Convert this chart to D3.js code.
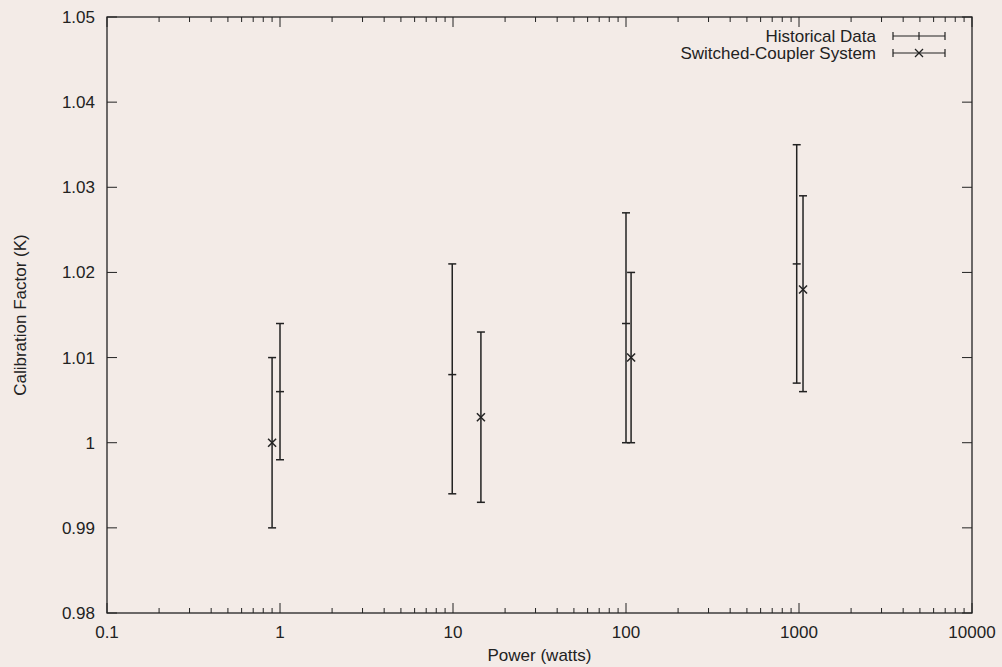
<!DOCTYPE html>
<html>
<head>
<meta charset="utf-8">
<script src="https://cdn.jsdelivr.net/npm/d3@7"></script>
<style>
  body { margin: 0; background: #f3ebe7; }
  svg { display: block; }
  text { font-family: "Liberation Sans", Arial, sans-serif; fill: #222; }
</style>
</head>
<body>
<div id="chart"></div>
<script>
// Historical Data (power, center, low, high)
var histPower = [1, 9.9, 100, 970];
var histValue = [1.006, 1.008, 1.014, 1.021];
var histLow   = [0.998, 0.994, 1.000, 1.007];
var histHigh  = [1.014, 1.021, 1.027, 1.035];

// Switched-Coupler System
var swPower = [0.9, 14.5, 107, 1055];
var swValue = [1.000, 1.003, 1.010, 1.018];
var swLow   = [0.990, 0.993, 1.000, 1.006];
var swHigh  = [1.010, 1.013, 1.020, 1.029];

var xTicks = [0.1, 1, 10, 100, 1000, 10000];
var yTicks = [0.98, 0.99, 1, 1.01, 1.02, 1.03, 1.04, 1.05];

var width = 1002, height = 667;
var margin = { left: 107, right: 30, top: 17, bottom: 54 };
var ink = "#222";

var svg = d3.select("#chart")
    .append("svg")
    .attr("width", width)
    .attr("height", height);

var x = d3.scaleLog()
    .domain([0.1, 10000])
    .range([margin.left, width - margin.right]);

var y = d3.scaleLinear()
    .domain([0.98, 1.05])
    .range([height - margin.bottom, margin.top]);

var x0 = x.range()[0], x1 = x.range()[1];
var y0 = y.range()[0], y1 = y.range()[1];

// minor ticks for log axis
var minorTicks = [];
xTicks.slice(0, -1).forEach(function (t) {
    for (var k = 2; k <= 9; k++) minorTicks.push(t * k);
});

var ticks = svg.append("g").attr("stroke", ink).attr("stroke-width", 1);

// x ticks bottom + top
xTicks.forEach(function (t) {
    ticks.append("line").attr("x1", x(t)).attr("x2", x(t)).attr("y1", y0).attr("y2", y0 - 10);
    ticks.append("line").attr("x1", x(t)).attr("x2", x(t)).attr("y1", y1).attr("y2", y1 + 10);
});
minorTicks.forEach(function (t) {
    ticks.append("line").attr("x1", x(t)).attr("x2", x(t)).attr("y1", y0).attr("y2", y0 - 5);
    ticks.append("line").attr("x1", x(t)).attr("x2", x(t)).attr("y1", y1).attr("y2", y1 + 5);
});
// y ticks left + right
yTicks.forEach(function (t) {
    ticks.append("line").attr("x1", x0).attr("x2", x0 + 10).attr("y1", y(t)).attr("y2", y(t));
    ticks.append("line").attr("x1", x1).attr("x2", x1 - 10).attr("y1", y(t)).attr("y2", y(t));
});

// frame
svg.append("rect")
    .attr("x", x0).attr("y", y1)
    .attr("width", x1 - x0).attr("height", y0 - y1)
    .attr("fill", "none").attr("stroke", ink).attr("stroke-width", 1.3);

// tick labels
svg.selectAll(".xlab")
    .data(xTicks)
    .enter()
    .append("text")
    .attr("class", "xlab")
    .attr("x", function (d) { return x(d); })
    .attr("y", y0 + 25)
    .attr("text-anchor", "middle")
    .style("font-size", "17px")
    .text(function (d) { return d3.format("~g")(d); });

svg.selectAll(".ylab")
    .data(yTicks)
    .enter()
    .append("text")
    .attr("class", "ylab")
    .attr("x", x0 - 12)
    .attr("y", function (d) { return y(d) + 6; })
    .attr("text-anchor", "end")
    .style("font-size", "17px")
    .text(function (d) { return d3.format("~g")(d); });

// axis titles
svg.append("text")
    .attr("x", (x0 + x1) / 2)
    .attr("y", y0 + 48)
    .attr("text-anchor", "middle")
    .style("font-size", "17px")
    .text("Power (watts)");

svg.append("text")
    .attr("transform", "translate(26," + (y0 + y1) / 2 + ") rotate(-90)")
    .attr("text-anchor", "middle")
    .style("font-size", "17px")
    .text("Calibration Factor (K)");

var cap = 4;

function drawBars(power, value, low, high, marker) {
    var g = svg.append("g").attr("stroke", ink).attr("stroke-width", 1.5).attr("fill", "none");
    power.forEach(function (p, i) {
        var px = x(p);
        g.append("line").attr("x1", px).attr("x2", px).attr("y1", y(low[i])).attr("y2", y(high[i]));
        g.append("line").attr("x1", px - cap).attr("x2", px + cap).attr("y1", y(low[i])).attr("y2", y(low[i]));
        g.append("line").attr("x1", px - cap).attr("x2", px + cap).attr("y1", y(high[i])).attr("y2", y(high[i]));
        marker(g, px, y(value[i]));
    });
}

function tickMark(g, cx, cy) {
    g.append("line").attr("x1", cx - cap).attr("x2", cx + cap).attr("y1", cy).attr("y2", cy);
}

function crossMark(g, cx, cy) {
    var s = 4;
    g.append("line").attr("x1", cx - s).attr("x2", cx + s).attr("y1", cy - s).attr("y2", cy + s);
    g.append("line").attr("x1", cx - s).attr("x2", cx + s).attr("y1", cy + s).attr("y2", cy - s);
}

drawBars(histPower, histValue, histLow, histHigh, tickMark);
drawBars(swPower, swValue, swLow, swHigh, crossMark);

// legend
var legendItems = [
    { name: "Historical Data", marker: "tick" },
    { name: "Switched-Coupler System", marker: "cross" }
];

var legend = svg.selectAll(".legend")
    .data(legendItems)
    .enter()
    .append("g")
    .attr("class", "legend")
    .attr("transform", function (d, i) { return "translate(0," + (36 + i * 17) + ")"; });

legend.append("text")
    .attr("x", 876)
    .attr("y", 6)
    .attr("text-anchor", "end")
    .style("font-size", "17px")
    .text(function (d) { return d.name; });

legend.each(function (d) {
    var g = d3.select(this).append("g").attr("stroke", ink).attr("stroke-width", 1.2);
    var a = 893, b = 945, m = (a + b) / 2;
    g.append("line").attr("x1", a).attr("x2", b).attr("y1", 0).attr("y2", 0);
    g.append("line").attr("x1", a).attr("x2", a).attr("y1", -4).attr("y2", 4);
    g.append("line").attr("x1", b).attr("x2", b).attr("y1", -4).attr("y2", 4);
    if (d.marker === "tick") {
        g.append("line").attr("x1", m).attr("x2", m).attr("y1", -4).attr("y2", 4);
    } else {
        g.append("line").attr("x1", m - 4).attr("x2", m + 4).attr("y1", -4).attr("y2", 4);
        g.append("line").attr("x1", m - 4).attr("x2", m + 4).attr("y1", 4).attr("y2", -4);
    }
});
</script>
</body>
</html>
